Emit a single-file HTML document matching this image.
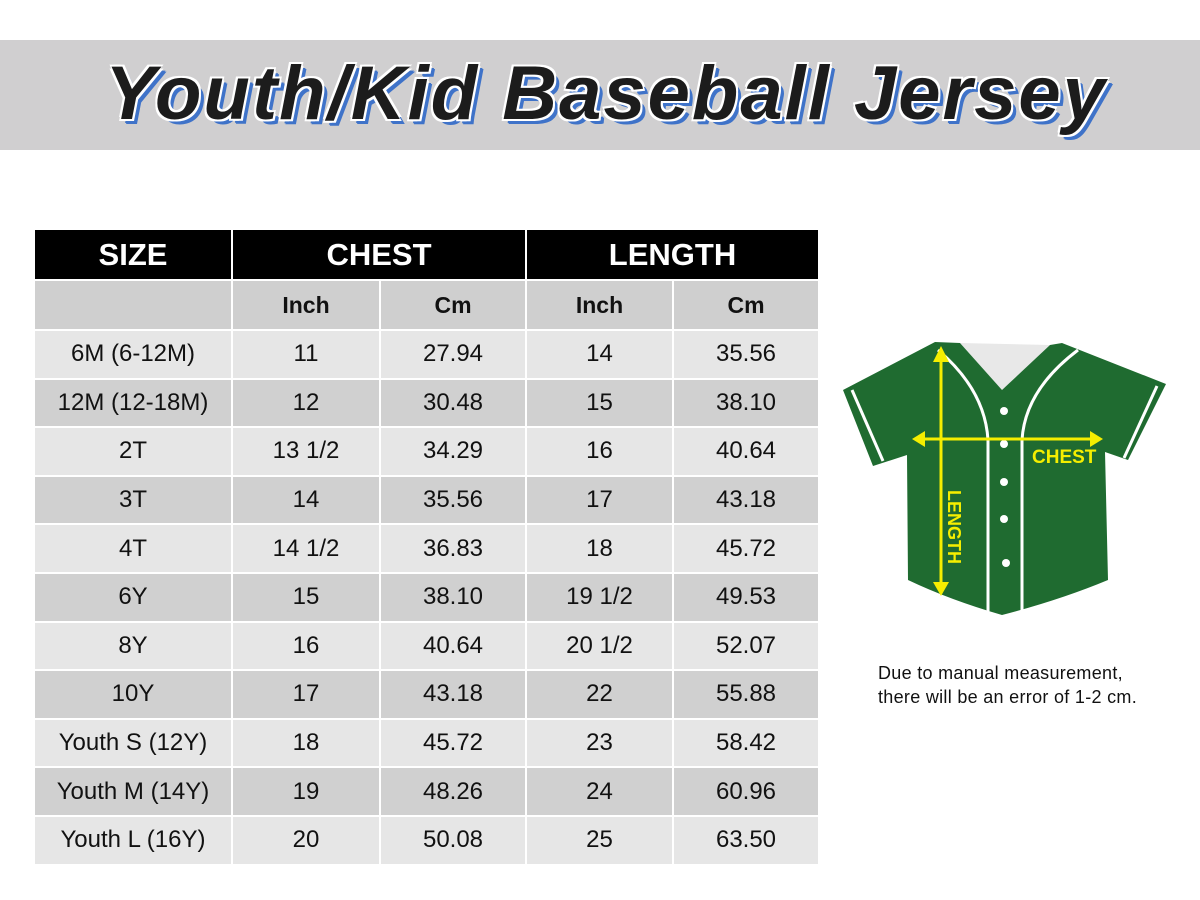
<!DOCTYPE html>
<html><head><meta charset="utf-8"><style>
body{margin:0;width:1200px;height:900px;background:#fff;position:relative;overflow:hidden;font-family:"Liberation Sans",Arial,sans-serif}
.band{position:absolute;left:0;top:40px;width:1200px;height:110px;background:#d0cfd0}
.title{position:absolute;left:0;top:50px;width:1212px;text-align:center;font-size:76px;font-weight:bold;font-style:italic;color:#1c1c1c;letter-spacing:2px;
 text-shadow:-2px -2px 0 #fff,2px -2px 0 #fff,-2px 2px 0 #fff,2px 2px 0 #fff,4px 4px 0 #3f73c9,5px 5px 0 #3f73c9}
table{position:absolute;left:33px;top:230px;border-collapse:collapse;table-layout:fixed}
td{text-align:center;font-size:24px;color:#111;padding:0;border:2px solid #fff}
tr{height:48.6px}
tr.h{height:50px}
tr.s{height:50px}
tr.h td{background:#000;color:#fff;font-weight:bold;font-size:31px;border-top:none}
tr.s td{background:#cfcfcf;font-weight:bold;font-size:23px}
tr.a td{background:#e6e6e6}
tr.b td{background:#d0d0d0}
.note{position:absolute;left:878px;top:661px;font-size:18px;color:#111;line-height:24px;letter-spacing:0.3px}
</style></head><body>
<div class="band"></div>
<div class="title">Youth/Kid Baseball Jersey</div>
<table>
<colgroup><col style="width:198px"><col style="width:148px"><col style="width:146px"><col style="width:147px"><col style="width:146px"></colgroup>
<tr class="h"><td>SIZE</td><td colspan="2">CHEST</td><td colspan="2">LENGTH</td></tr>
<tr class="s"><td></td><td>Inch</td><td>Cm</td><td>Inch</td><td>Cm</td></tr>
<tr class="a"><td>6M (6-12M)</td><td>11</td><td>27.94</td><td>14</td><td>35.56</td></tr>
<tr class="b"><td>12M (12-18M)</td><td>12</td><td>30.48</td><td>15</td><td>38.10</td></tr>
<tr class="a"><td>2T</td><td>13 1/2</td><td>34.29</td><td>16</td><td>40.64</td></tr>
<tr class="b"><td>3T</td><td>14</td><td>35.56</td><td>17</td><td>43.18</td></tr>
<tr class="a"><td>4T</td><td>14 1/2</td><td>36.83</td><td>18</td><td>45.72</td></tr>
<tr class="b"><td>6Y</td><td>15</td><td>38.10</td><td>19 1/2</td><td>49.53</td></tr>
<tr class="a"><td>8Y</td><td>16</td><td>40.64</td><td>20 1/2</td><td>52.07</td></tr>
<tr class="b"><td>10Y</td><td>17</td><td>43.18</td><td>22</td><td>55.88</td></tr>
<tr class="a"><td>Youth S (12Y)</td><td>18</td><td>45.72</td><td>23</td><td>58.42</td></tr>
<tr class="b"><td>Youth M (14Y)</td><td>19</td><td>48.26</td><td>24</td><td>60.96</td></tr>
<tr class="a"><td>Youth L (16Y)</td><td>20</td><td>50.08</td><td>25</td><td>63.50</td></tr>
</table>
<svg style="position:absolute;left:0;top:0" width="1200" height="900">
<path d="M960,343 L1002,390 L1050,345 Z" fill="#e8e8e8"/>
<path d="M935,342 L960,343 L1002,390 L1050,345 L1062,343 L1166,384 L1128,460 L1105,452 L1108,580 Q1060,600 1002,615 Q950,600 908,580 L907,455 L873,466 L843,390 Z" fill="#1f6b30"/>
<g stroke="#fff" stroke-width="3" fill="none">
<path d="M938,350 Q985,390 988,440 L988,612"/>
<path d="M1078,350 Q1025,390 1022,440 L1022,612"/>
<path d="M852,390 L883,461"/>
<path d="M1157,386 L1124,458"/>
</g>
<g fill="#fff"><circle cx="1004" cy="411" r="4"/><circle cx="1004" cy="444" r="4"/><circle cx="1004" cy="482" r="4"/><circle cx="1004" cy="519" r="4"/><circle cx="1006" cy="563" r="4"/></g>
<g stroke="#f5ee00" stroke-width="3" fill="#f5ee00">
<line x1="941" y1="352" x2="941" y2="590"/>
<line x1="917" y1="439" x2="1097" y2="439"/>
<path d="M933,362 L941,346 L949,362 Z" stroke="none"/>
<path d="M933,582 L941,596 L949,582 Z" stroke="none"/>
<path d="M925,431 L912,439 L925,447 Z" stroke="none"/>
<path d="M1090,431 L1103,439 L1090,447 Z" stroke="none"/>
</g>
<text x="1032" y="463" font-family="Liberation Sans Narrow,Liberation Sans,sans-serif" font-weight="bold" font-size="19" fill="#f5ee00">CHEST</text>
<text x="0" y="0" font-family="Liberation Sans Narrow,Liberation Sans,sans-serif" font-weight="bold" font-size="18" fill="#f5ee00" transform="translate(948,490) rotate(90)">LENGTH</text>
</svg>
<div class="note">Due to manual measurement,<br>there will be an error of 1-2 cm.</div>
</body></html>
